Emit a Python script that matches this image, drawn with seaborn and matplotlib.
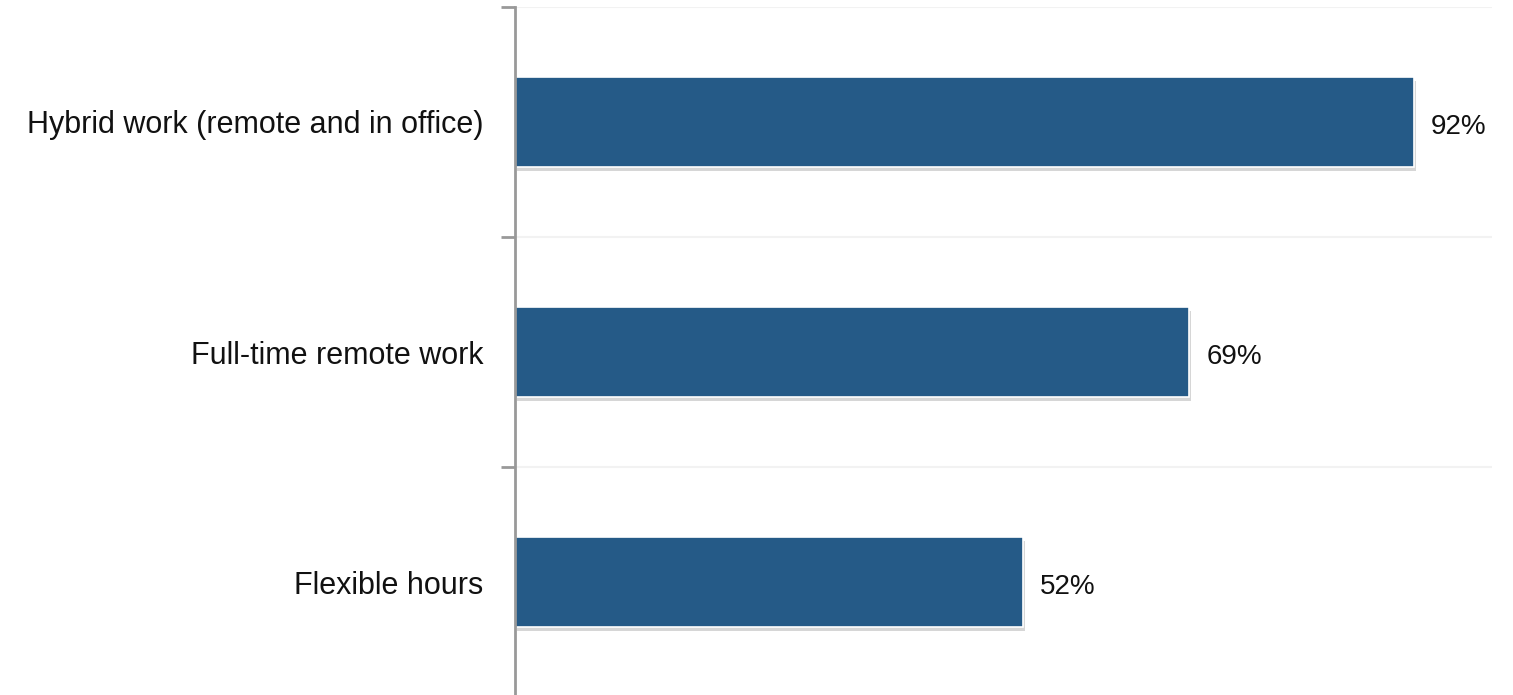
import matplotlib
matplotlib.use("Agg")
import matplotlib.pyplot as plt
import matplotlib.patheffects as pe
import pandas as pd
import seaborn as sns

# Share of respondents by work arrangement
categories = ["Hybrid work (remote and in office)", "Full-time remote work", "Flexible hours"]
values = [92, 69, 52]
value_labels = ["92%", "69%", "52%"]

df = pd.DataFrame({"arrangement": categories, "share": values})

sns.set_theme(style="white")
plt.rcParams["font.family"] = ["Liberation Sans", "DejaVu Sans"]

fig = plt.figure(figsize=(15.13, 6.95), dpi=100)
ax = fig.add_axes([515 / 1513, -2 / 695, (1492 - 515) / 1513, (697 - 7) / 695])

sns.barplot(data=df, x="share", y="arrangement", orient="h", color="#255a87",
            saturation=1, width=0.39, edgecolor="white", linewidth=1.2, ax=ax)

for patch in ax.patches:
    patch.set_path_effects([pe.SimplePatchShadow(offset=(1.5, -3), shadow_rgbFace="#000000", alpha=0.16),
                            pe.Normal()])

ax.set_xlim(0, 100)
ax.set_ylim(2.5, -0.5)

# faint separators between category bands
for b in [-0.5, 0.5, 1.5]:
    ax.axhline(b, color="#f2f2f2", linewidth=1.5, zorder=0)

for i, (v, lab) in enumerate(zip(values, value_labels)):
    ax.text(v + 1.75, i + 0.02, lab, va="center", ha="left", fontsize=20, color="#111111")

ax.set_xlabel("")
ax.set_ylabel("")
ax.set_xticks([])
ax.set_yticks([-0.5, 0.5, 1.5])
ax.set_yticks([0, 1, 2], minor=True)
ax.set_yticklabels([])
ax.set_yticklabels(categories, minor=True, fontsize=22, color="#111111")
ax.tick_params(axis="y", which="major", left=True, length=10, width=2, color="#999999")
ax.tick_params(axis="y", which="minor", left=False, pad=19)

for side in ["top", "right", "bottom"]:
    ax.spines[side].set_visible(False)
ax.spines["left"].set_color("#999999")
ax.spines["left"].set_linewidth(2)

fig.savefig("out.png", dpi=100, facecolor="white")
